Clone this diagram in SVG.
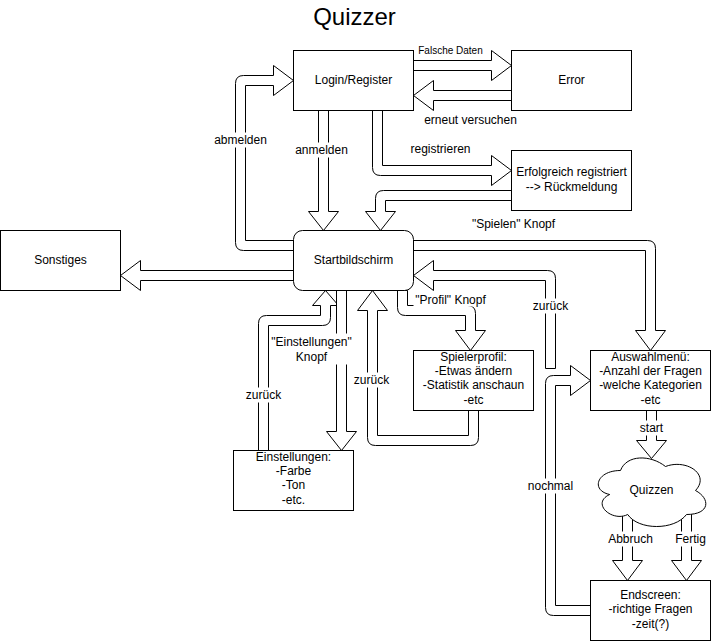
<svg xmlns="http://www.w3.org/2000/svg" width="711" height="641" viewBox="0 0 711 641">
  <style>
    .box { fill: #ffffff; stroke: #000000; stroke-width: 1; }
    .flex { fill: #ffffff; stroke: #000000; stroke-width: 1; stroke-linejoin: miter; }
    .bg { fill: #ffffff; stroke: none; }
    text { font-family: "Liberation Sans", Arial, Helvetica, sans-serif; font-size: 12px; fill: #000000; text-anchor: middle; }
    .small { font-size: 10px; }
    .title { font-size: 24px; }
  </style>
  <rect width="711" height="641" fill="#ffffff"/>
  <g transform="translate(0.5,0.5)">
    <text id="title" class="title" x="354" y="24">Quizzer</text>

    <g id="connectors">
      <!-- Login/Register -> Error -->
      <path class="flex" d="M413,60 H491 V50 L511,65 L491,80 V70 H413 Z"/>
      <!-- Error -> Login/Register -->
      <path class="flex" d="M511,90 H433 V80 L413,95 L433,110 V100 H511 Z"/>
      <!-- Login/Register -> Startbildschirm (anmelden) -->
      <path class="flex" d="M318,110 V211 H308 L323,230 L338,211 H328 V110 Z"/>
      <!-- Login/Register -> Erfolgreich registriert -->
      <path class="flex" d="M372,110 V167 Q372,175 380,175 H491 V185 L511,170 L491,155 V165 H382 V110 Z"/>
      <!-- Erfolgreich registriert -> Startbildschirm -->
      <path class="flex" d="M511,190 H383 Q375,190 375,198 V211 H365 L380,230 L395,211 H385 V200 H511 Z"/>
      <!-- Startbildschirm -> Login/Register (abmelden) -->
      <path class="flex" d="M293,240 H245 V85 H273 V95 L293,80 L273,65 V75 H243 Q235,75 235,83 V242 Q235,250 243,250 H293 Z"/>
      <!-- Startbildschirm -> Sonstiges -->
      <path class="flex" d="M293,270 H140 V260 L120,275 L140,290 V280 H293 Z"/>
      <!-- Startbildschirm -> Auswahlmenue -->
      <path class="flex" d="M413,240 H647 Q655,240 655,248 V330 H665 L650,350 L635,330 H645 V250 H413 Z"/>
      <!-- Auswahlmenue -> Startbildschirm (zurueck) -->
      <path class="flex" d="M545,368 V280 H433 V290 L413,275 L433,260 V270 H547 Q555,270 555,278 V368 Z"/>
      <!-- Startbildschirm -> Spielerprofil -->
      <path class="flex" d="M397,290 V307 Q397,315 405,315 H465 V330 H455 L470,350 L485,330 H475 V313 Q475,305 467,305 H407 V290 Z"/>
      <!-- Spielerprofil -> Startbildschirm (zurueck) -->
      <path class="flex" d="M468,410 V435 H377 V310 H387 L372,290 L357,310 H367 V437 Q367,445 375,445 H470 Q478,445 478,437 V410 Z"/>
      <!-- Einstellungen -> Startbildschirm (zurueck) -->
      <path class="flex" d="M258,450 V323 Q258,315 266,315 H320 V305 H312 L325,290 L338,305 H330 V317 Q330,325 322,325 H268 V450 Z"/>
      <!-- Startbildschirm -> Einstellungen -->
      <path class="flex" d="M336,290 V431 H326 L341,450 L356,431 H346 V290 Z"/>
      <!-- Auswahlmenue -> Quizzen (start) -->
      <path class="flex" d="M646,410 V440 H636 L651,458 L666,440 H656 V410 Z"/>
      <!-- Quizzen -> Endscreen (Abbruch) -->
      <path class="flex" d="M622,505 V560 H612 L627,580 L642,560 H632 V505 Z"/>
      <!-- Quizzen -> Endscreen (Fertig) -->
      <path class="flex" d="M681,505 V560 H671 L686,580 L701,560 H691 V505 Z"/>
      <!-- Endscreen -> Auswahlmenue (nochmal) -->
      <path class="flex" d="M590,605 H555 V385 H570 V395 L590,380 L570,365 V375 H553 Q545,375 545,383 V607 Q545,615 553,615 H590 Z"/>

      <!-- connector labels -->
      <text class="small" x="450" y="53.5">Falsche Daten</text>
      <text x="470" y="123">erneut versuchen</text>
      <text x="440" y="152.5">registrieren</text>
      <rect class="bg" x="294" y="142" width="54" height="15"/>
      <text x="321" y="153">anmelden</text>
      <rect class="bg" x="212" y="132" width="56" height="15"/>
      <text x="240" y="143">abmelden</text>
      <text x="513" y="227.5">"Spielen" Knopf</text>
      <rect class="bg" x="532" y="298" width="36" height="15"/>
      <text x="550" y="309">zurück</text>
      <rect class="bg" x="413" y="291" width="74" height="15"/>
      <text x="450" y="303">"Profil" Knopf</text>
      <rect class="bg" x="270" y="333" width="82" height="31"/>
      <text x="311" y="345">"Einstellungen"</text>
      <text x="311" y="360">Knopf</text>
      <rect class="bg" x="245" y="387" width="36" height="15"/>
      <text x="263" y="398">zurück</text>
      <rect class="bg" x="353" y="372" width="36" height="15"/>
      <text x="371" y="383">zurück</text>
      <rect class="bg" x="639" y="420" width="25" height="15"/>
      <text x="651" y="431.5">start</text>
      <rect class="bg" x="607" y="531" width="46" height="15"/>
      <text x="630" y="542">Abbruch</text>
      <rect class="bg" x="674" y="531" width="32" height="15"/>
      <text x="690" y="542">Fertig</text>
      <rect class="bg" x="527" y="478" width="46" height="15"/>
      <text x="550" y="489">nochmal</text>
    </g>

    <g id="login">
      <rect class="box" x="293" y="50" width="120" height="60"/>
      <text x="353" y="83">Login/Register</text>
    </g>
    <g id="error">
      <rect class="box" x="511" y="50" width="120" height="60"/>
      <text x="571" y="83">Error</text>
    </g>
    <g id="registered">
      <rect class="box" x="511" y="150" width="120" height="60"/>
      <text x="571" y="175">Erfolgreich registriert</text>
      <text x="571" y="190">--&gt; Rückmeldung</text>
    </g>
    <g id="start-screen">
      <rect class="box" x="293" y="230" width="120" height="60" rx="9" ry="9"/>
      <text x="353" y="263">Startbildschirm</text>
    </g>
    <g id="other">
      <rect class="box" x="0" y="230" width="120" height="60"/>
      <text x="60" y="263">Sonstiges</text>
    </g>
    <g id="profile">
      <rect class="box" x="413" y="350" width="120" height="60"/>
      <text x="473" y="360.5">Spielerprofil:</text>
      <text x="473" y="374.7">-Etwas ändern</text>
      <text x="473" y="388.9">-Statistik anschaun</text>
      <text x="473" y="403.1">-etc</text>
    </g>
    <g id="settings">
      <rect class="box" x="233" y="450" width="120" height="60"/>
      <text x="293" y="460.3">Einstellungen:</text>
      <text x="293" y="474.6">-Farbe</text>
      <text x="293" y="488.9">-Ton</text>
      <text x="293" y="503.2">-etc.</text>
    </g>
    <g id="menu">
      <rect class="box" x="590" y="350" width="120" height="60"/>
      <text x="650" y="360.3">Auswahlmenü:</text>
      <text x="650" y="374.6">-Anzahl der Fragen</text>
      <text x="650" y="388.9">-welche Kategorien</text>
      <text x="650" y="403.2">-etc</text>
    </g>
    <g id="quiz">
      <path class="box" d="M620,470 C596,470 590,490 609.2,494 C590,502.8 611.6,522 627.2,514 C638,530 674,530 686,514 C710,514 710,498 695,490 C710,474 686,458 665,466 C650,454 626,454 620,470 Z"/>
      <text x="651" y="493">Quizzen</text>
    </g>
    <g id="end-screen">
      <rect class="box" x="590" y="580" width="120" height="60"/>
      <text x="650" y="598.3">Endscreen:</text>
      <text x="650" y="612.8">-richtige Fragen</text>
      <text x="650" y="627.3">-zeit(?)</text>
    </g>
  </g>
</svg>
